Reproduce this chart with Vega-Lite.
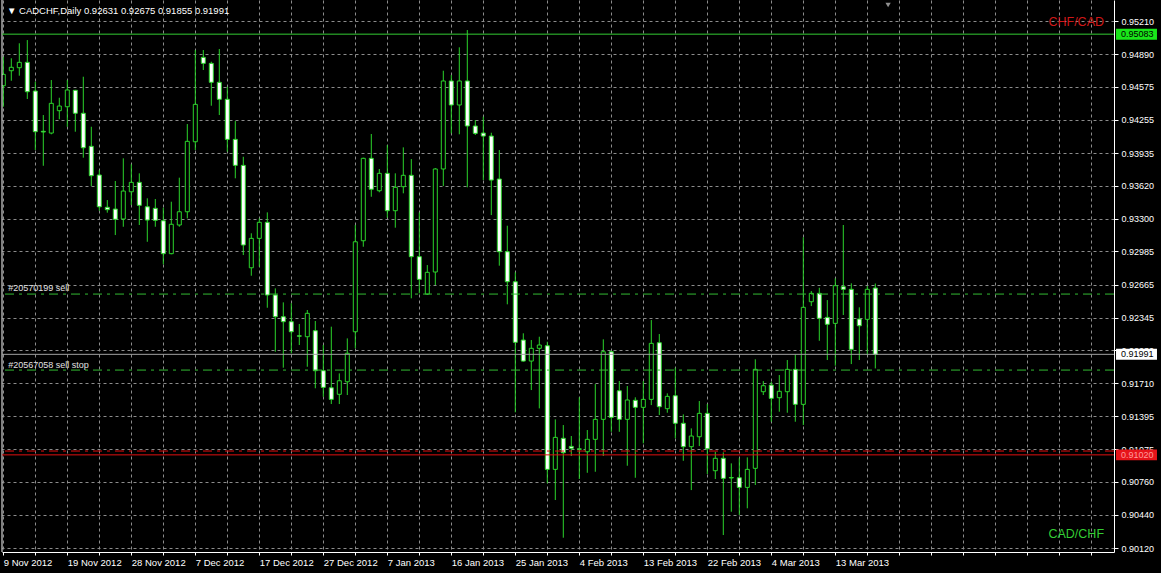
{
  "$schema": "https://vega.github.io/schema/vega-lite/v6.json",
  "width": 1112,
  "height": 552,
  "autosize": {"type": "none"},
  "padding": {"left": 2, "top": 0, "right": 47, "bottom": 21},
  "background": "#000000",
  "config": {"view": {"stroke": null}, "font": "Liberation Sans", "scale": {"continuousPadding": 0}},
  "datasets": {
    "candles": [
      {"date": "2012-11-09", "open": 0.94585, "high": 0.94865, "low": 0.94382, "close": 0.94695},
      {"date": "2012-11-11", "open": 0.94730, "high": 0.94850, "low": 0.94633, "close": 0.94763},
      {"date": "2012-11-12", "open": 0.94759, "high": 0.94995, "low": 0.94682, "close": 0.94811},
      {"date": "2012-11-13", "open": 0.94811, "high": 0.95026, "low": 0.94457, "close": 0.94527},
      {"date": "2012-11-14", "open": 0.94534, "high": 0.94624, "low": 0.93964, "close": 0.94141},
      {"date": "2012-11-15", "open": 0.94145, "high": 0.94302, "low": 0.93812, "close": 0.94138},
      {"date": "2012-11-16", "open": 0.94128, "high": 0.94640, "low": 0.94116, "close": 0.94415},
      {"date": "2012-11-18", "open": 0.94344, "high": 0.94469, "low": 0.94261, "close": 0.94389},
      {"date": "2012-11-19", "open": 0.94382, "high": 0.94640, "low": 0.94189, "close": 0.94544},
      {"date": "2012-11-20", "open": 0.94541, "high": 0.94545, "low": 0.94141, "close": 0.94319},
      {"date": "2012-11-21", "open": 0.94319, "high": 0.94672, "low": 0.93890, "close": 0.93986},
      {"date": "2012-11-22", "open": 0.94000, "high": 0.94189, "low": 0.93616, "close": 0.93716},
      {"date": "2012-11-23", "open": 0.93723, "high": 0.93771, "low": 0.93378, "close": 0.93416},
      {"date": "2012-11-25", "open": 0.93411, "high": 0.93481, "low": 0.93359, "close": 0.93388},
      {"date": "2012-11-26", "open": 0.93394, "high": 0.93665, "low": 0.93143, "close": 0.93295},
      {"date": "2012-11-27", "open": 0.93298, "high": 0.93884, "low": 0.93223, "close": 0.93568},
      {"date": "2012-11-28", "open": 0.93561, "high": 0.93826, "low": 0.93433, "close": 0.93652},
      {"date": "2012-11-29", "open": 0.93652, "high": 0.93739, "low": 0.93240, "close": 0.93430},
      {"date": "2012-11-30", "open": 0.93416, "high": 0.93498, "low": 0.93078, "close": 0.93288},
      {"date": "2012-12-02", "open": 0.93401, "high": 0.93491, "low": 0.93223, "close": 0.93285},
      {"date": "2012-12-03", "open": 0.93281, "high": 0.93407, "low": 0.92860, "close": 0.92963},
      {"date": "2012-12-04", "open": 0.92963, "high": 0.93465, "low": 0.92957, "close": 0.93247},
      {"date": "2012-12-05", "open": 0.93240, "high": 0.93697, "low": 0.93223, "close": 0.93368},
      {"date": "2012-12-06", "open": 0.93368, "high": 0.94215, "low": 0.93304, "close": 0.94048},
      {"date": "2012-12-07", "open": 0.94044, "high": 0.94930, "low": 0.93964, "close": 0.94405},
      {"date": "2012-12-09", "open": 0.94859, "high": 0.94930, "low": 0.94737, "close": 0.94801},
      {"date": "2012-12-10", "open": 0.94801, "high": 0.94817, "low": 0.94392, "close": 0.94618},
      {"date": "2012-12-11", "open": 0.94618, "high": 0.94940, "low": 0.94302, "close": 0.94454},
      {"date": "2012-12-12", "open": 0.94454, "high": 0.94575, "low": 0.93948, "close": 0.94067},
      {"date": "2012-12-13", "open": 0.94067, "high": 0.94244, "low": 0.93691, "close": 0.93816},
      {"date": "2012-12-14", "open": 0.93816, "high": 0.93899, "low": 0.92950, "close": 0.93047},
      {"date": "2012-12-16", "open": 0.92827, "high": 0.93160, "low": 0.92750, "close": 0.93111},
      {"date": "2012-12-17", "open": 0.93111, "high": 0.93304, "low": 0.92837, "close": 0.93266},
      {"date": "2012-12-18", "open": 0.93266, "high": 0.93362, "low": 0.92441, "close": 0.92564},
      {"date": "2012-12-19", "open": 0.92564, "high": 0.92628, "low": 0.92016, "close": 0.92354},
      {"date": "2012-12-20", "open": 0.92354, "high": 0.92493, "low": 0.91862, "close": 0.92306},
      {"date": "2012-12-21", "open": 0.92306, "high": 0.92484, "low": 0.92001, "close": 0.92209},
      {"date": "2012-12-23", "open": 0.92170, "high": 0.92284, "low": 0.92081, "close": 0.92166},
      {"date": "2012-12-24", "open": 0.92161, "high": 0.92419, "low": 0.91871, "close": 0.92387},
      {"date": "2012-12-26", "open": 0.92219, "high": 0.92313, "low": 0.91663, "close": 0.91833},
      {"date": "2012-12-27", "open": 0.91833, "high": 0.92081, "low": 0.91581, "close": 0.91672},
      {"date": "2012-12-28", "open": 0.91668, "high": 0.92258, "low": 0.91511, "close": 0.91556},
      {"date": "2012-12-30", "open": 0.91605, "high": 0.91807, "low": 0.91511, "close": 0.91736},
      {"date": "2012-12-31", "open": 0.91726, "high": 0.92145, "low": 0.91598, "close": 0.92001},
      {"date": "2013-01-02", "open": 0.92209, "high": 0.93240, "low": 0.92049, "close": 0.93078},
      {"date": "2013-01-03", "open": 0.93088, "high": 0.93890, "low": 0.93030, "close": 0.93884},
      {"date": "2013-01-04", "open": 0.93884, "high": 0.94119, "low": 0.93513, "close": 0.93585},
      {"date": "2013-01-06", "open": 0.93571, "high": 0.93781, "low": 0.93556, "close": 0.93739},
      {"date": "2013-01-07", "open": 0.93739, "high": 0.94012, "low": 0.93310, "close": 0.93378},
      {"date": "2013-01-08", "open": 0.93378, "high": 0.93739, "low": 0.93214, "close": 0.93604},
      {"date": "2013-01-09", "open": 0.93610, "high": 0.93990, "low": 0.93546, "close": 0.93720},
      {"date": "2013-01-10", "open": 0.93720, "high": 0.93877, "low": 0.92532, "close": 0.92934},
      {"date": "2013-01-11", "open": 0.92934, "high": 0.93362, "low": 0.92580, "close": 0.92715},
      {"date": "2013-01-13", "open": 0.92573, "high": 0.92853, "low": 0.92564, "close": 0.92783},
      {"date": "2013-01-14", "open": 0.92786, "high": 0.93790, "low": 0.92660, "close": 0.93781},
      {"date": "2013-01-15", "open": 0.93781, "high": 0.94730, "low": 0.93616, "close": 0.94631},
      {"date": "2013-01-16", "open": 0.94631, "high": 0.94688, "low": 0.94125, "close": 0.94399},
      {"date": "2013-01-17", "open": 0.94399, "high": 0.94956, "low": 0.94116, "close": 0.94631},
      {"date": "2013-01-18", "open": 0.94631, "high": 0.95123, "low": 0.93604, "close": 0.94196},
      {"date": "2013-01-20", "open": 0.94196, "high": 0.94254, "low": 0.94109, "close": 0.94125},
      {"date": "2013-01-21", "open": 0.94128, "high": 0.94286, "low": 0.93674, "close": 0.94099},
      {"date": "2013-01-22", "open": 0.94099, "high": 0.94131, "low": 0.93336, "close": 0.93674},
      {"date": "2013-01-23", "open": 0.93684, "high": 0.93964, "low": 0.92847, "close": 0.92982},
      {"date": "2013-01-24", "open": 0.92982, "high": 0.93233, "low": 0.92474, "close": 0.92692},
      {"date": "2013-01-25", "open": 0.92692, "high": 0.92783, "low": 0.91431, "close": 0.92107},
      {"date": "2013-01-27", "open": 0.92129, "high": 0.92194, "low": 0.91920, "close": 0.91926},
      {"date": "2013-01-28", "open": 0.91926, "high": 0.92129, "low": 0.91646, "close": 0.92049},
      {"date": "2013-01-29", "open": 0.92049, "high": 0.92161, "low": 0.91469, "close": 0.92081},
      {"date": "2013-01-30", "open": 0.92074, "high": 0.92113, "low": 0.90745, "close": 0.90880},
      {"date": "2013-01-31", "open": 0.90880, "high": 0.91363, "low": 0.90584, "close": 0.91189},
      {"date": "2013-02-01", "open": 0.91180, "high": 0.91308, "low": 0.90220, "close": 0.91041},
      {"date": "2013-02-03", "open": 0.91102, "high": 0.91202, "low": 0.91009, "close": 0.91083},
      {"date": "2013-02-04", "open": 0.91078, "high": 0.91576, "low": 0.90787, "close": 0.91074},
      {"date": "2013-02-05", "open": 0.91050, "high": 0.91260, "low": 0.90847, "close": 0.91170},
      {"date": "2013-02-06", "open": 0.91170, "high": 0.91704, "low": 0.90857, "close": 0.91363},
      {"date": "2013-02-07", "open": 0.91363, "high": 0.92136, "low": 0.91009, "close": 0.92016},
      {"date": "2013-02-08", "open": 0.92016, "high": 0.92026, "low": 0.91243, "close": 0.91382},
      {"date": "2013-02-10", "open": 0.91639, "high": 0.91733, "low": 0.91243, "close": 0.91363},
      {"date": "2013-02-11", "open": 0.91363, "high": 0.91685, "low": 0.90915, "close": 0.91550},
      {"date": "2013-02-12", "open": 0.91547, "high": 0.91576, "low": 0.90799, "close": 0.91479},
      {"date": "2013-02-13", "open": 0.91479, "high": 0.91733, "low": 0.91131, "close": 0.91556},
      {"date": "2013-02-14", "open": 0.91556, "high": 0.92322, "low": 0.91501, "close": 0.92097},
      {"date": "2013-02-15", "open": 0.92103, "high": 0.92187, "low": 0.91405, "close": 0.91485},
      {"date": "2013-02-17", "open": 0.91466, "high": 0.91614, "low": 0.91427, "close": 0.91585},
      {"date": "2013-02-18", "open": 0.91591, "high": 0.91862, "low": 0.91180, "close": 0.91325},
      {"date": "2013-02-19", "open": 0.91325, "high": 0.91411, "low": 0.90963, "close": 0.91099},
      {"date": "2013-02-20", "open": 0.91099, "high": 0.91276, "low": 0.90680, "close": 0.91202},
      {"date": "2013-02-21", "open": 0.91195, "high": 0.91540, "low": 0.91105, "close": 0.91421},
      {"date": "2013-02-22", "open": 0.91421, "high": 0.91511, "low": 0.90835, "close": 0.91079},
      {"date": "2013-02-24", "open": 0.90867, "high": 0.91050, "low": 0.90787, "close": 0.90987},
      {"date": "2013-02-25", "open": 0.90987, "high": 0.91044, "low": 0.90246, "close": 0.90793},
      {"date": "2013-02-26", "open": 0.90801, "high": 0.90938, "low": 0.90471, "close": 0.90797},
      {"date": "2013-02-27", "open": 0.90799, "high": 0.90987, "low": 0.90439, "close": 0.90706},
      {"date": "2013-02-28", "open": 0.90706, "high": 0.90996, "low": 0.90504, "close": 0.90880},
      {"date": "2013-03-01", "open": 0.90890, "high": 0.91943, "low": 0.90729, "close": 0.91846},
      {"date": "2013-03-03", "open": 0.91630, "high": 0.91733, "low": 0.91598, "close": 0.91688},
      {"date": "2013-03-04", "open": 0.91694, "high": 0.91726, "low": 0.91340, "close": 0.91566},
      {"date": "2013-03-05", "open": 0.91572, "high": 0.91791, "low": 0.91437, "close": 0.91634},
      {"date": "2013-03-06", "open": 0.91630, "high": 0.91936, "low": 0.91427, "close": 0.91846},
      {"date": "2013-03-07", "open": 0.91846, "high": 0.91991, "low": 0.91340, "close": 0.91508},
      {"date": "2013-03-08", "open": 0.91508, "high": 0.93121, "low": 0.91308, "close": 0.92445},
      {"date": "2013-03-10", "open": 0.92499, "high": 0.92602, "low": 0.92457, "close": 0.92580},
      {"date": "2013-03-11", "open": 0.92580, "high": 0.92634, "low": 0.92122, "close": 0.92339},
      {"date": "2013-03-12", "open": 0.92348, "high": 0.92515, "low": 0.91936, "close": 0.92281},
      {"date": "2013-03-13", "open": 0.92290, "high": 0.92725, "low": 0.91881, "close": 0.92654},
      {"date": "2013-03-14", "open": 0.92644, "high": 0.93240, "low": 0.92371, "close": 0.92619},
      {"date": "2013-03-15", "open": 0.92619, "high": 0.92677, "low": 0.91897, "close": 0.92039},
      {"date": "2013-03-17", "open": 0.92332, "high": 0.92445, "low": 0.91936, "close": 0.92267},
      {"date": "2013-03-18", "open": 0.92329, "high": 0.92651, "low": 0.91984, "close": 0.92619},
      {"date": "2013-03-19", "open": 0.92631, "high": 0.92675, "low": 0.91855, "close": 0.91991}
    ]
  },
  "layer": [
    {
      "data": {"name": "candles"},
      "transform": [{"window": [{"op": "row_number", "as": "i"}], "sort": [{"field": "date", "order": "ascending"}]}],
      "layer": [
        {
          "mark": {"type": "rule", "color": "#2bd42b", "strokeWidth": 1, "clip": true},
          "encoding": {
            "x": {
              "field": "i", "type": "quantitative",
              "scale": {"domain": [0.8375, 139.8375], "nice": false, "zero": false, "padding": 0},
              "axis": {
                "title": null,
                "values": [1,5,9,13,17,21,25,29,33,37,41,45,49,53,57,61,65,69,73,77,81,85,89,93,97,101,105,109,113,117,121,125,129,133,137],
                "tickCount": 500,
                "labelExpr": "(datum.value - 1) % 8 == 0 && datum.value <= 105 ? ['9 Nov 2012','19 Nov 2012','28 Nov 2012','7 Dec 2012','17 Dec 2012','27 Dec 2012','7 Jan 2013','16 Jan 2013','25 Jan 2013','4 Feb 2013','13 Feb 2013','22 Feb 2013','4 Mar 2013','13 Mar 2013'][(datum.value - 1) / 8] : ''",
                "grid": true, "gridColor": "#8c8c8c", "gridDash": [3, 3], "gridWidth": 1,
                "domain": true, "domainColor": "#ffffff", "domainWidth": 1,
                "ticks": true, "tickColor": "#ffffff", "tickSize": 3,
                "labelColor": "#ffffff", "labelFont": "Liberation Sans", "labelFontSize": 9.5,
                "labelAlign": "left", "labelBaseline": "top", "labelPadding": 2,
                "labelOverlap": false, "labelFlush": false, "labelBound": false
              }
            },
            "y": {
              "field": "low", "type": "quantitative",
              "scale": {"domain": [0.90082, 0.95413], "nice": false, "zero": false, "padding": 0},
              "axis": {
                "title": null, "orient": "right",
                "values": [0.95210, 0.94890, 0.94575, 0.94255, 0.93935, 0.93620, 0.93300, 0.92985, 0.92665, 0.92345, 0.92030, 0.91710, 0.91395, 0.91075, 0.90760, 0.90440, 0.90120],
                "tickCount": 500,
                "format": ".5f",
                "grid": true, "gridColor": "#8c8c8c", "gridDash": [3, 3], "gridWidth": 1,
                "domain": true, "domainColor": "#ffffff", "domainWidth": 1,
                "ticks": true, "tickColor": "#ffffff", "tickSize": 4,
                "labelColor": "#ffffff", "labelFont": "Liberation Sans", "labelFontSize": 9,
                "labelAlign": "left", "labelBaseline": "middle", "labelPadding": 3,
                "labelOverlap": false, "labelFlush": false, "labelBound": false
              }
            },
            "y2": {"field": "high"}
          }
        },
        {
          "mark": {"type": "bar", "size": 4, "stroke": "#2bd42b", "strokeWidth": 1, "clip": true},
          "encoding": {
            "x": {"field": "i", "type": "quantitative"},
            "y": {"field": "open", "type": "quantitative"},
            "y2": {"field": "close"},
            "fill": {"condition": {"test": "datum.close < datum.open", "value": "#ffffff"}, "value": "#000000"}
          }
        }
      ]
    },
    {
      "data": {"values": [{}]},
      "layer": [
        {"mark": {"type": "rule", "color": "#ffffff", "strokeWidth": 1}, "encoding": {"x": {"datum": 0.8375, "type": "quantitative"}}},
        {"mark": {"type": "rule", "color": "#33cc33", "strokeWidth": 1}, "encoding": {"y": {"datum": 0.95083, "type": "quantitative"}}},
        {"mark": {"type": "rule", "color": "#33bb33", "strokeWidth": 1, "strokeDash": [9, 5, 3, 5]}, "encoding": {"y": {"datum": 0.92573, "type": "quantitative"}}},
        {"mark": {"type": "rule", "color": "#33bb33", "strokeWidth": 1, "strokeDash": [9, 5, 3, 5]}, "encoding": {"y": {"datum": 0.91839, "type": "quantitative"}}},
        {"mark": {"type": "rule", "color": "#a0a0a0", "strokeWidth": 1}, "encoding": {"y": {"datum": 0.91991, "type": "quantitative"}}},
        {"mark": {"type": "rule", "color": "#e01010", "strokeWidth": 1, "strokeDash": [9, 5, 3, 5]}, "encoding": {"y": {"datum": 0.91057, "type": "quantitative"}}},
        {"mark": {"type": "rule", "color": "#e01010", "strokeWidth": 1}, "encoding": {"y": {"datum": 0.91020, "type": "quantitative"}}},
        {"mark": {"type": "rect", "fill": "#19e619"}, "encoding": {"x": {"datum": 140.09, "type": "quantitative"}, "x2": {"datum": 145.21}, "y": {"datum": 0.95030, "type": "quantitative"}, "y2": {"datum": 0.95136}}},
        {"mark": {"type": "rect", "fill": "#ffffff"}, "encoding": {"x": {"datum": 140.09, "type": "quantitative"}, "x2": {"datum": 145.21}, "y": {"datum": 0.91938, "type": "quantitative"}, "y2": {"datum": 0.92044}}},
        {"mark": {"type": "rect", "fill": "#e6141a"}, "encoding": {"x": {"datum": 140.09, "type": "quantitative"}, "x2": {"datum": 145.21}, "y": {"datum": 0.90967, "type": "quantitative"}, "y2": {"datum": 0.91073}}},
        {"mark": {"type": "text", "color": "#000000", "font": "Liberation Sans", "fontSize": 9, "align": "left", "baseline": "middle"}, "encoding": {"x": {"datum": 140.71, "type": "quantitative"}, "y": {"datum": 0.95083, "type": "quantitative"}, "text": {"value": "0.95083"}}},
        {"mark": {"type": "text", "color": "#000000", "font": "Liberation Sans", "fontSize": 9, "align": "left", "baseline": "middle"}, "encoding": {"x": {"datum": 140.71, "type": "quantitative"}, "y": {"datum": 0.91991, "type": "quantitative"}, "text": {"value": "0.91991"}}},
        {"mark": {"type": "text", "color": "#ff9a9a", "font": "Liberation Sans", "fontSize": 9, "align": "left", "baseline": "middle"}, "encoding": {"x": {"datum": 140.71, "type": "quantitative"}, "y": {"datum": 0.91020, "type": "quantitative"}, "text": {"value": "0.91020"}}},
        {"mark": {"type": "text", "color": "#ffffff", "font": "Liberation Sans", "fontSize": 9.5, "align": "left", "baseline": "middle"}, "encoding": {"x": {"datum": 1.46, "type": "quantitative"}, "y": {"datum": 0.95307, "type": "quantitative"}, "text": {"value": "▼ CADCHF,Daily  0.92631 0.92675 0.91855 0.91991"}}},
        {"mark": {"type": "text", "color": "#e0e0e0", "font": "Liberation Sans", "fontSize": 9, "align": "left", "baseline": "middle", "dy": -6}, "encoding": {"x": {"datum": 1.625, "type": "quantitative"}, "y": {"datum": 0.92573, "type": "quantitative"}, "text": {"value": "#20570199 sell"}}},
        {"mark": {"type": "text", "color": "#e0e0e0", "font": "Liberation Sans", "fontSize": 9, "align": "left", "baseline": "middle", "dy": -5}, "encoding": {"x": {"datum": 1.625, "type": "quantitative"}, "y": {"datum": 0.91839, "type": "quantitative"}, "text": {"value": "#20567058 sell stop"}}},
        {"mark": {"type": "text", "color": "#d01818", "font": "Liberation Sans", "fontSize": 12.5, "align": "right", "baseline": "middle"}, "encoding": {"x": {"datum": 138.59, "type": "quantitative"}, "y": {"datum": 0.95196, "type": "quantitative"}, "text": {"value": "CHF/CAD"}}},
        {"mark": {"type": "text", "color": "#33cc33", "font": "Liberation Sans", "fontSize": 12.5, "align": "right", "baseline": "middle"}, "encoding": {"x": {"datum": 138.59, "type": "quantitative"}, "y": {"datum": 0.90255, "type": "quantitative"}, "text": {"value": "CAD/CHF"}}},
        {"mark": {"type": "point", "shape": "triangle-down", "filled": true, "color": "#909090", "size": 28, "opacity": 1}, "encoding": {"x": {"datum": 111.6, "type": "quantitative"}, "y": {"datum": 0.95365, "type": "quantitative"}}}
      ]
    }
  ]
}
